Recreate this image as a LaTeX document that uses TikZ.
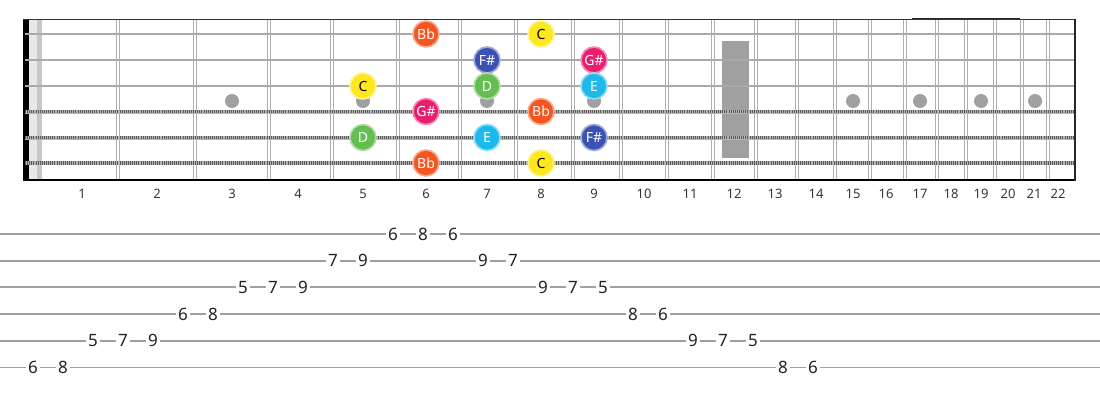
\documentclass[tikz,border=0pt]{standalone}
\usepackage{fontspec}
\setmainfont{Noto Sans}
\definecolor{fretgray}{RGB}{175,175,175}
\definecolor{strgray}{RGB}{170,170,170}
\definecolor{wbase}{RGB}{180,180,180}
\definecolor{wdark}{RGB}{90,90,90}
\definecolor{dotgray}{RGB}{160,160,160}
\definecolor{tabline}{RGB}{160,160,160}
\definecolor{numtext}{RGB}{55,55,55}
\definecolor{tabtext}{RGB}{35,35,35}
\definecolor{cBb}{RGB}{244,86,34}
\definecolor{cC}{RGB}{253,232,30}
\definecolor{cFs}{RGB}{60,82,178}
\definecolor{cGs}{RGB}{234,30,110}
\definecolor{cD}{RGB}{100,190,80}
\definecolor{cE}{RGB}{30,185,235}
\tikzset{
  fretl/.style={draw=fretgray, line width=1.1pt},
  plainstr/.style={draw=strgray, line width=2.6pt},
  woundbase/.style={draw=wbase, line width=4pt},
  woundtex/.style={draw=wdark, line width=3.4pt, dash pattern=on 0.9pt off 1.2pt},
  markdot/.style={circle, fill=dotgray, minimum size=14pt, inner sep=0},
  notebase/.style={circle, minimum size=26pt, inner sep=0, line width=1.6pt,
    font=\fontsize{14}{14}\selectfont, text=white},
  notec/.style={notebase, fill=#1, draw=#1!50!white},
  fretnum/.style={font=\fontsize{13}{13}\selectfont, text=numtext, inner sep=0},
  tabnum/.style={fill=white, inner sep=2.2pt, font=\fontsize{17}{17}\selectfont, text=tabtext},
  tabl/.style={draw=tabline, line width=1.7pt}
}
\begin{document}
\begin{tikzpicture}[x=1pt, y=-1pt]
\useasboundingbox (0,0) rectangle (1100,400);
\fill[white] (0,0) rectangle (1100,400);
% nut area
\fill[black] (23,19) rectangle (28.5,180);
\fill[black!9] (28.5,19) rectangle (37,180);
\fill[black!22] (37,19) rectangle (41.5,180);
% markers
\foreach \x/\nm in {232/m3,363/m5,487/m7,594/m9,853/m15,920/m17,981/m19,1035/m21}
  \node[markdot] (\nm) at (\x,101) {};
\fill[dotgray] (721.5,40.5) rectangle (748.5,157.5);
% frets
\foreach \x in {118,195,269,332,398,460,516,573,621,667,713,756,797,835,870,905,937,966,995,1022,1048}{
  \draw[fretl] (\x-1.5,19) -- (\x-1.5,180);
  \draw[fretl] (\x+1.5,19) -- (\x+1.5,180);
}
% strings
\foreach \y in {34,60,86} \draw[plainstr] (25,\y) -- (1075,\y);
\foreach \y in {111.5,137.5,163}{
  \draw[woundbase] (25,\y) -- (1075,\y);
  \draw[woundtex] (25,\y) -- (1075,\y);
}
% borders
\draw[black!80, line width=1.3pt] (23,19.3) -- (1075,19.3);
\draw[black!85, line width=1.6pt] (912,18.6) -- (1020,18.6);
\draw[black, line width=2pt] (23,180) -- (1076,180);
\draw[black!85, line width=2pt] (1075,18.5) -- (1075,181);
% notes
\node[notec=cBb] (n1) at (426,34) {Bb};
\node[notec=cC, text=black] (n2) at (541,34) {C};
\node[notec=cFs] (n3) at (487,60) {F\#};
\node[notec=cGs] (n4) at (594,60) {G\#};
\node[notec=cC, text=black] (n5) at (363,86) {C};
\node[notec=cD] (n6) at (487,86) {D};
\node[notec=cE] (n7) at (594,86) {E};
\node[notec=cGs] (n8) at (426,111.5) {G\#};
\node[notec=cBb] (n9) at (541,111.5) {Bb};
\node[notec=cD] (n10) at (363,137.5) {D};
\node[notec=cE] (n11) at (487,137.5) {E};
\node[notec=cFs] (n12) at (594,137.5) {F\#};
\node[notec=cBb] (n13) at (426,163) {Bb};
\node[notec=cC, text=black] (n14) at (541,163) {C};
% fret numbers
\foreach \x [count=\i] in {82,157,232,298,363,426,487,541,594,644,690,734,775,816,853,886,920,951,981,1008,1034,1058}
  \node[fretnum] (f\i) at (\x,193.5) {\i};
% tab
\foreach \s in {1,...,6} \draw[tabl] (0,{234+26.67*(\s-1)}) -- (1100,{234+26.67*(\s-1)});
\foreach \n/\s [count=\i] in {6/6,8/6,5/5,7/5,9/5,6/4,8/4,5/3,7/3,9/3,7/2,9/2,6/1,8/1,6/1,9/2,7/2,9/3,7/3,5/3,8/4,6/4,9/5,7/5,5/5,8/6,6/6}
  \node[tabnum] (t\i) at ({33+30*(\i-1)},{234+26.67*(\s-1)}) {\n};
\end{tikzpicture}
\end{document}
